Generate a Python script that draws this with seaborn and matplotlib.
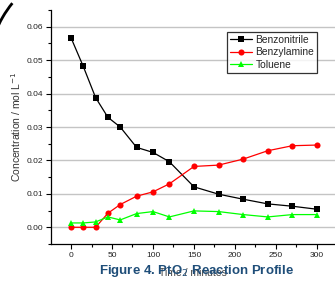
import pandas as pd
import numpy as np
import seaborn as sns
import matplotlib.pyplot as plt
from matplotlib.patches import Arc
from matplotlib.ticker import MultipleLocator

time_min = [0, 15, 30, 45, 60, 80, 100, 120, 150, 180, 210, 240, 270, 300]
benzonitrile = [0.0567, 0.0481, 0.0388, 0.0329, 0.0300, 0.0239, 0.0224, 0.0196,
                0.0121, 0.0099, 0.0084, 0.0070, 0.0063, 0.0054]
benzylamine = [0.0000, 0.0000, 0.0000, 0.0042, 0.0068, 0.0093, 0.0106, 0.0130,
               0.0182, 0.0186, 0.0204, 0.0229, 0.0244, 0.0246]
toluene = [0.0013, 0.0013, 0.0016, 0.0031, 0.0022, 0.0041, 0.0047, 0.0031,
           0.0049, 0.0047, 0.0038, 0.0031, 0.0038, 0.0038]
names = ['Benzonitrile', 'Benzylamine', 'Toluene']

df = pd.concat([
    pd.DataFrame({'time': time_min, 'conc': vals, 'compound': n})
    for n, vals in zip(names, [benzonitrile, benzylamine, toluene])
])

sns.set_theme(style='white')
plt.rcParams['font.family'] = ['Liberation Sans', 'DejaVu Sans']

fig = plt.figure(figsize=(3.35, 2.84), dpi=100)
ax = fig.add_axes([51 / 335, 40 / 284, 284 / 335, 234 / 284])

colors = {'Benzonitrile': 'black', 'Benzylamine': '#ff0000', 'Toluene': '#00ff00'}
markers = {'Benzonitrile': 's', 'Benzylamine': 'o', 'Toluene': '^'}
sns.lineplot(data=df, x='time', y='conc', hue='compound', style='compound',
             palette=colors, markers=markers, dashes=False, markersize=4.4,
             markeredgewidth=0, linewidth=0.9, ax=ax)

ax.set_xlim(-24.4, 322)
ax.set_ylim(-0.005, 0.065)
ax.xaxis.set_major_locator(MultipleLocator(50))
ax.xaxis.set_minor_locator(MultipleLocator(25))
ax.yaxis.set_major_locator(MultipleLocator(0.01))
ax.yaxis.set_minor_locator(MultipleLocator(0.005))
ax.set_yticks(np.arange(0, 0.061, 0.01))
ax.yaxis.set_major_formatter(plt.FormatStrFormatter('%.2f'))
ax.tick_params(which='major', direction='out', length=3.5, width=0.8,
               labelsize=6, color='black', labelcolor='#222222', pad=2)
ax.tick_params(which='minor', direction='out', length=2, width=0.8, color='black')
ax.tick_params(axis='x', which='both', bottom=True)
ax.tick_params(axis='y', which='both', left=True)
ax.grid(axis='y', which='major', color='#c4c4c4', linewidth=1)
ax.set_axisbelow(True)
for s in ['top', 'right']:
    ax.spines[s].set_visible(False)
for s in ['left', 'bottom']:
    ax.spines[s].set_color('black')
    ax.spines[s].set_linewidth(0.9)

ax.set_ylabel('Concentration / mol L$^{-1}$', fontsize=7.5, color='#333333', labelpad=3)
ax.set_xlabel('Time / minutes', fontsize=7.5, color='#444444', labelpad=7)

leg = ax.legend(loc='upper left', bbox_to_anchor=(0.619, 0.907), borderaxespad=0,
                fontsize=7.4, frameon=True, fancybox=False, handlelength=2.2,
                handletextpad=0.3, borderpad=0.3, labelspacing=0.25)
leg.get_frame().set_edgecolor('black')
leg.get_frame().set_linewidth(0.9)

fig.text(196 / 335, 1 - 271 / 284, 'Figure 4. PtO$_2$ Reaction Profile',
         fontsize=9.5, fontweight='bold', color='#1f4e79',
         ha='center', va='center', zorder=10)

arc = Arc((94 / 335, 1 - 70 / 284), 2 * 105.5 / 335, 2 * 105.5 / 284,
          theta1=136, theta2=156, transform=fig.transFigure,
          color='black', linewidth=2)
fig.add_artist(arc)

fig.savefig('out.png', dpi=100)
